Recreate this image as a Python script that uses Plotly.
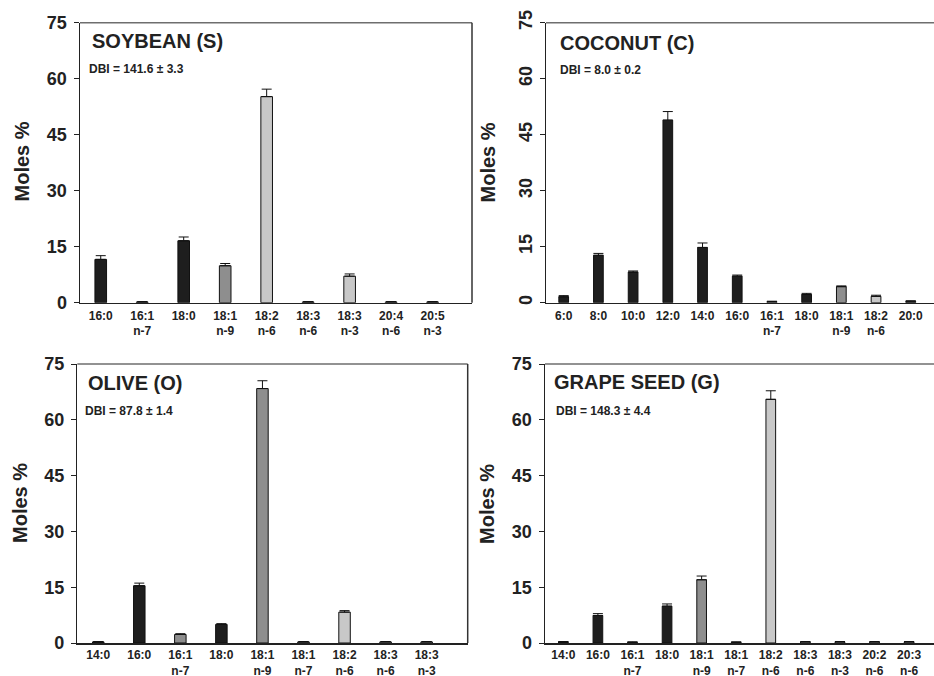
import plotly.graph_objects as go

# ---------------- data ----------------
soy_cats = ["16:0", "16:1<br>n-7", "18:0", "18:1<br>n-9", "18:2<br>n-6", "18:3<br>n-6", "18:3<br>n-3", "20:4<br>n-6", "20:5<br>n-3"]
soy_vals = [11.6, 0.2, 16.6, 9.9, 55.2, 0.2, 7.1, 0.2, 0.2]
soy_err = [1.0, 0.1, 1.0, 0.6, 2.0, 0.1, 0.6, 0.1, 0.1]
soy_type = ["S", "M", "S", "M", "P", "P", "P", "P", "P"]

coco_cats = ["6:0", "8:0", "10:0", "12:0", "14:0", "16:0", "16:1<br>n-7", "18:0", "18:1<br>n-9", "18:2<br>n-6", "20:0"]
coco_vals = [1.6, 12.7, 8.2, 48.9, 14.8, 7.1, 0.3, 2.2, 4.3, 1.7, 0.4]
coco_err = [0.3, 0.5, 0.3, 2.3, 1.2, 0.3, 0.1, 0.3, 0.2, 0.3, 0.1]
coco_type = ["S", "S", "S", "S", "S", "S", "M", "S", "M", "P", "S"]

olive_cats = ["14:0", "16:0", "16:1<br>n-7", "18:0", "18:1<br>n-9", "18:1<br>n-7", "18:2<br>n-6", "18:3<br>n-6", "18:3<br>n-3"]
olive_vals = [0.3, 15.4, 2.3, 5.0, 68.4, 0.3, 8.3, 0.3, 0.3]
olive_err = [0.1, 0.7, 0.2, 0.2, 2.1, 0.1, 0.4, 0.1, 0.1]
olive_type = ["S", "S", "M", "S", "M", "M", "P", "P", "P"]

grape_cats = ["14:0", "16:0", "16:1<br>n-7", "18:0", "18:1<br>n-9", "18:1<br>n-7", "18:2<br>n-6", "18:3<br>n-6", "18:3<br>n-3", "20:2<br>n-6", "20:3<br>n-6"]
grape_vals = [0.3, 7.4, 0.2, 9.9, 17.0, 0.2, 65.5, 0.3, 0.3, 0.3, 0.3]
grape_err = [0.1, 0.5, 0.1, 0.6, 1.0, 0.1, 2.3, 0.1, 0.1, 0.1, 0.1]
grape_type = ["S", "S", "M", "S", "M", "M", "P", "P", "P", "P", "P"]

titles = ["SOYBEAN (S)", "COCONUT (C)", "OLIVE (O)", "GRAPE SEED (G)"]
dbi_texts = ["DBI = 141.6 ± 3.3", "DBI = 8.0 ± 0.2", "DBI = 87.8 ± 1.4", "DBI = 148.3 ± 4.4"]
y_ticks = [0, 15, 30, 45, 60, 75]

COLORS = {"S": "#1e1e1e", "M": "#8e8e8e", "P": "#c8c8c8"}

W, H = 934, 676
FONT = "Liberation Sans, Arial, sans-serif"

# panel geometry in pixels: left, right, top(y=75), bottom(y=0), x-range
panels = [
    dict(cats=soy_cats, vals=soy_vals, err=soy_err, typ=soy_type,
         l=80, r=472, t=22.7, b=302.7, xr=[-0.5, 8.95], right_line=True, rot=False, xstand=1,
         title_xy=(90, 41), dbi_xy=(87, 69), ytitle_xy=(21.5, 162)),
    dict(cats=coco_cats, vals=coco_vals, err=coco_err, typ=coco_type,
         l=546, r=934, t=22.7, b=302.7, xr=[-0.51, 10.67], right_line=False, rot=True, xstand=1,
         title_xy=(558, 42.5), dbi_xy=(557.5, 70), ytitle_xy=(487, 162.5)),
    dict(cats=olive_cats, vals=olive_vals, err=olive_err, typ=olive_type,
         l=77.3, r=467.7, t=364, b=643, xr=[-0.51, 9.0], right_line=True, rot=False, xstand=0,
         title_xy=(86, 383.3), dbi_xy=(82.5, 411), ytitle_xy=(20, 503)),
    dict(cats=grape_cats, vals=grape_vals, err=grape_err, typ=grape_type,
         l=545, r=934, t=364, b=643, xr=[-0.53, 10.72], right_line=False, rot=False, xstand=0,
         title_xy=(551.5, 381.7), dbi_xy=(554, 411), ytitle_xy=(487, 504)),
]

fig = go.Figure()
layout_axes = {}
annotations = []
shapes = []

for i, p in enumerate(panels):
    n = i + 1
    xa = "x" if n == 1 else f"x{n}"
    ya = "y" if n == 1 else f"y{n}"
    xkey = "xaxis" if n == 1 else f"xaxis{n}"
    ykey = "yaxis" if n == 1 else f"yaxis{n}"
    xs = list(range(len(p["cats"])))
    fig.add_trace(go.Bar(
        x=xs, y=p["vals"], width=0.28,
        marker=dict(color=[COLORS[t] for t in p["typ"]], line=dict(color="#111111", width=1)),
        error_y=dict(type="data", symmetric=False, array=p["err"], arrayminus=[0] * len(xs),
                     color="#111111", thickness=1, width=5),
        xaxis=xa, yaxis=ya, showlegend=False, hoverinfo="skip",
    ))
    xd = [p["l"] / W, min(p["r"] / W, 1.0)]
    yd = [1 - p["b"] / H, 1 - p["t"] / H]
    layout_axes[xkey] = dict(
        domain=xd, range=p["xr"], anchor=ya, tickmode="array", tickvals=xs, ticktext=p["cats"],
        showline=True, linecolor="#222222", linewidth=1.5, showgrid=False, zeroline=False,
        ticks="", tickangle=0, automargin=False, ticklabelstandoff=p["xstand"],
        tickfont=dict(family=FONT, size=12, color="#222222", weight="bold"),
        fixedrange=True,
    )
    layout_axes[ykey] = dict(
        domain=yd, range=[0, 75], anchor=xa, tickmode="array", tickvals=y_ticks,
        showline=True, linecolor="#222222", linewidth=1.5, showgrid=False, zeroline=False,
        ticks="outside", ticklen=5, tickcolor="#222222", tickwidth=1,
        tickangle=-90 if p["rot"] else 0, automargin=False,
        ticklabelstandoff=0 if p["rot"] else 3,
        tickfont=dict(family=FONT, size=18, color="#222222", weight="bold"),
        fixedrange=True,
    )
    # frame: top line (and right line for left panels)
    shapes.append(dict(type="line", xref="paper", yref="paper",
                       x0=p["l"] / W, x1=min(p["r"] / W, 1.0), y0=yd[1], y1=yd[1],
                       line=dict(color="#6e6e6e", width=1.5)))
    if p["right_line"]:
        shapes.append(dict(type="line", xref="paper", yref="paper",
                           x0=p["r"] / W, x1=p["r"] / W, y0=yd[0], y1=yd[1],
                           line=dict(color="#333333", width=1.5)))
    tx, ty = p["title_xy"]
    annotations.append(dict(text=titles[i], xref="paper", yref="paper", x=tx / W, y=1 - ty / H,
                            xanchor="left", yanchor="middle", showarrow=False,
                            font=dict(family=FONT, size=20, color="#222222", weight="bold")))
    dx, dy = p["dbi_xy"]
    annotations.append(dict(text=dbi_texts[i], xref="paper", yref="paper", x=dx / W, y=1 - dy / H,
                            xanchor="left", yanchor="middle", showarrow=False,
                            font=dict(family=FONT, size=12, color="#222222", weight="bold")))
    yx, yy = p["ytitle_xy"]
    annotations.append(dict(text="Moles %", xref="paper", yref="paper", x=yx / W, y=1 - yy / H,
                            xanchor="center", yanchor="middle", textangle=-90, showarrow=False,
                            font=dict(family=FONT, size=20, color="#222222", weight="bold")))

fig.update_layout(
    width=W, height=H, margin=dict(l=0, r=0, t=0, b=0, pad=0, autoexpand=False),
    paper_bgcolor="white", plot_bgcolor="white", hovermode=False,
    bargap=0.7, annotations=annotations, shapes=shapes,
    **layout_axes,
)

fig.write_html("out.html", config={"displayModeBar": False, "staticPlot": True},
               post_script="document.body.style.margin='0px';document.body.style.overflow='hidden';")
